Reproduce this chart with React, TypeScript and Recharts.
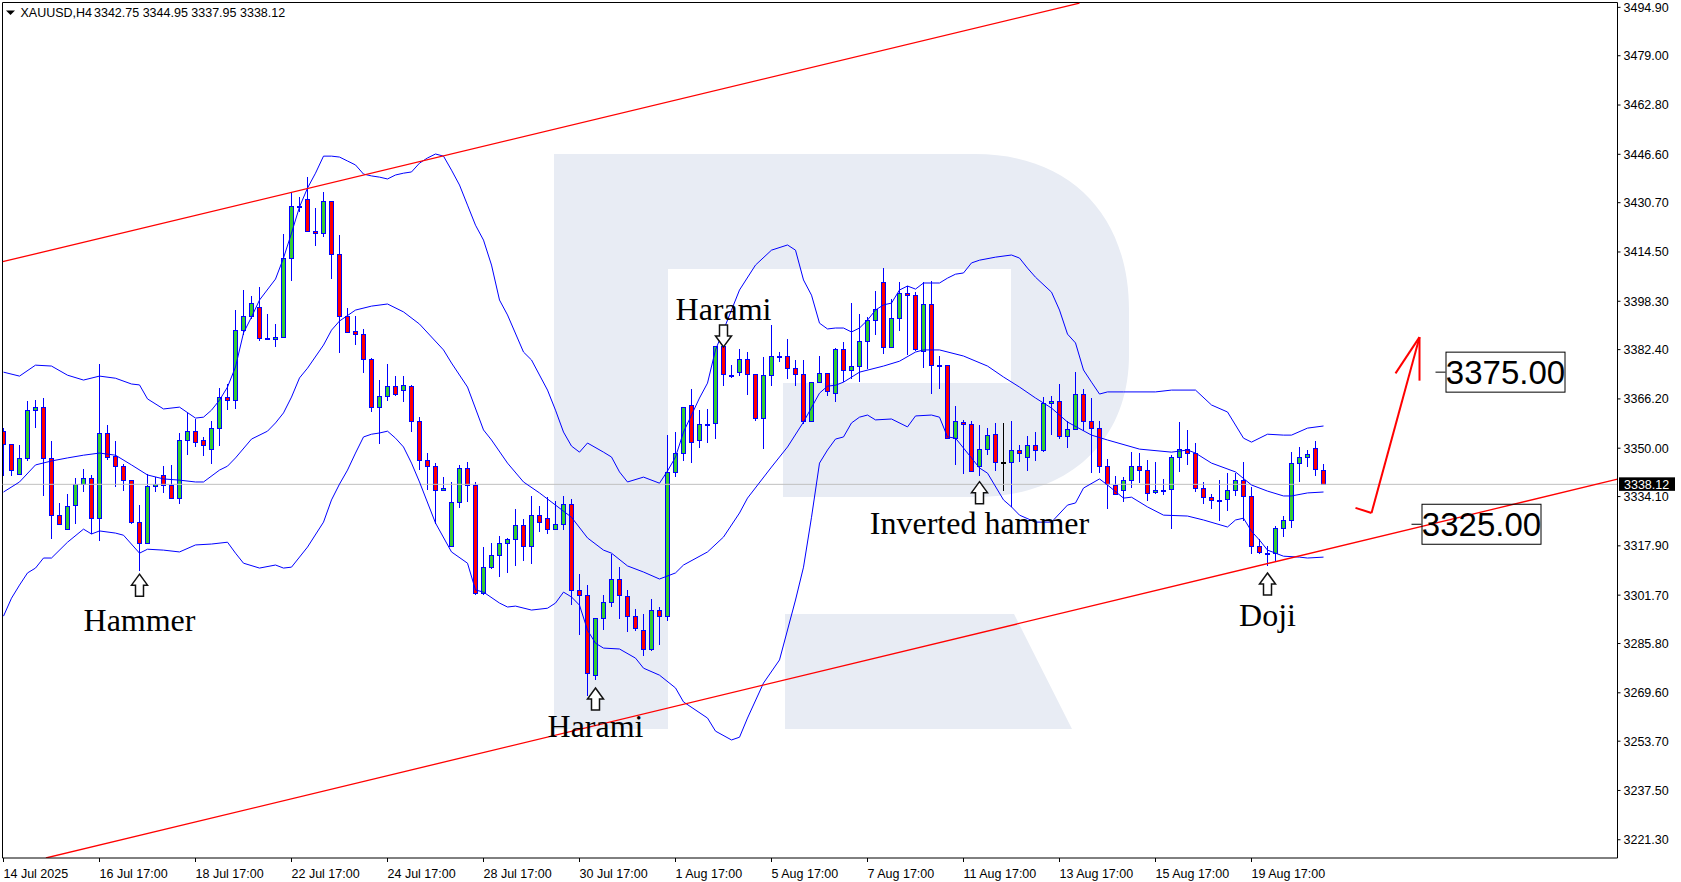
import React from "react";
import { ComposedChart, Bar, Line, XAxis, YAxis, ReferenceLine, ReferenceDot } from "recharts";

const opens = [
  3355.5, 3351.3, 3341.6, 3346.7, 3362.4, 3363.4, 3346.7, 3328.2, 3323.6, 3331.2,
  3338.1, 3340.1, 3326.9, 3354.9, 3347.6, 3344, 3339.4, 3325.6, 3319, 3337.5,
  3341.1, 3337.8, 3333.5, 3352.6, 3355.5, 3352.6, 3349.9, 3356.5, 3366.7, 3366,
  3388.7, 3393.3, 3396.3, 3386.1, 3385.8, 3386.4, 3412.4, 3429.4, 3431.8, 3421.3,
  3420.6, 3431.4, 3413.7, 3393.3, 3388.4, 3387.7, 3379.2, 3363.7, 3367, 3370.3,
  3369, 3370.3, 3358.8, 3346, 3344, 3336.1, 3317.7, 3332.2, 3343.4, 3337.8,
  3302.3, 3310.8, 3314.8, 3319, 3320, 3324.6, 3317.7, 3328.2, 3326.9, 3323.3,
  3325, 3331.5, 3303.3, 3301.6, 3275.3, 3294.1, 3299.6, 3306.9, 3301.3, 3295,
  3290.1, 3283.9, 3296.7, 3294.7, 3342.1, 3348.3, 3364.1, 3352.6, 3357.8, 3358.2,
  3383.5, 3373.8, 3374.9, 3379.2, 3374.3, 3359.8, 3373.9, 3380.2, 3380.2, 3376.2,
  3374.3, 3359.1, 3371.6, 3374.6, 3368, 3382.5, 3375.6, 3376.9, 3385.1, 3392.3,
  3404.5, 3383.4, 3392.7, 3400.9, 3400.2, 3382.1, 3397.3, 3377.3, 3377.2, 3353.5,
  3358.5, 3357.8, 3344, 3349.9, 3354.8, 3345.5, 3345.6, 3349.3, 3347, 3350.9,
  3349.3, 3364.7, 3365.4, 3354, 3356.2, 3367.7, 3359.1, 3356.8, 3344.3, 3337.8,
  3336.1, 3339.7, 3344, 3342.7, 3335.5, 3336.1, 3336.5, 3347, 3349.7, 3348.3,
  3336.8, 3333.9, 3332.8, 3333.2, 3336.2, 3339.5, 3334.2, 3317.8, 3315.3, 3315.5,
  3323.7, 3326.3, 3345.1, 3347, 3350, 3342.75,
];
const highs = [
  3356.5, 3351.3, 3351, 3365.5, 3365.8, 3366.4, 3352.4, 3331.9, 3335.1, 3340.1,
  3343.2, 3341.2, 3377.7, 3357.5, 3352.4, 3344.7, 3339.7, 3331.3, 3341.4, 3340.6,
  3344, 3344.5, 3354.9, 3361.6, 3359.5, 3353.7, 3358.8, 3369.7, 3371, 3395.4,
  3402, 3400, 3403, 3394.1, 3390.8, 3420.4, 3434.1, 3432.7, 3439, 3428.9,
  3434.1, 3431.4, 3420.1, 3396, 3393.4, 3389.1, 3379.5, 3372.4, 3377.6, 3373.6,
  3373.6, 3370.7, 3360.3, 3348.3, 3345, 3340.4, 3338.8, 3344.4, 3345.3, 3338.8,
  3317.4, 3319, 3321.1, 3320.4, 3329.9, 3326.6, 3334.2, 3330.9, 3333.8, 3332.5,
  3334.2, 3333.2, 3308.5, 3304.9, 3294.1, 3301.7, 3315.1, 3311.1, 3303.4, 3297.3,
  3295.5, 3300.3, 3297.7, 3354.5, 3355.2, 3363.4, 3369.3, 3362.5, 3363, 3383.5,
  3387.2, 3377.3, 3382.6, 3381.5, 3374.3, 3380, 3390.5, 3381.5, 3385.9, 3379,
  3378.9, 3371.6, 3380.3, 3374.8, 3382.8, 3384.8, 3397.6, 3394, 3393, 3401.7,
  3409.1, 3399.2, 3404.5, 3403.4, 3401.2, 3404.5, 3405.1, 3380.2, 3377.5, 3364,
  3359.4, 3358.8, 3357.5, 3356.5, 3358.2, 3358.2, 3359.1, 3350.9, 3353.9, 3355.2,
  3366.7, 3367.3, 3371, 3359.1, 3375.2, 3369.3, 3366.4, 3359.1, 3346.6, 3341,
  3340.4, 3348.6, 3348.3, 3346.1, 3345.4, 3339.8, 3347.7, 3358.5, 3356, 3351.6,
  3338.8, 3334.9, 3339.6, 3341.8, 3341.8, 3345.4, 3337.2, 3320.1, 3317.8, 3324.3,
  3327.6, 3348.7, 3350.3, 3349.3, 3352.3, 3344.95,
];
const lows = [
  3341, 3341, 3341.3, 3345.9, 3356.6, 3334.4, 3320.2, 3325, 3323.6, 3325.2,
  3335.7, 3321.7, 3319.6, 3346.2, 3337.3, 3336, 3325, 3309.7, 3318.4, 3335.7,
  3335.4, 3333.5, 3331.7, 3347.9, 3350.5, 3347.5, 3344.9, 3350.8, 3362.7, 3363,
  3387.1, 3392.5, 3385.4, 3385.6, 3383.4, 3386.1, 3405, 3427.7, 3421.3, 3416.4,
  3419.5, 3405.7, 3381.4, 3387.9, 3383.9, 3374.6, 3362, 3351.5, 3365.6, 3367.3,
  3365.3, 3355.4, 3342.8, 3336.2, 3325.1, 3335.8, 3317.7, 3330.4, 3332.4, 3301.6,
  3301.6, 3310.4, 3307.8, 3309.1, 3311.4, 3313, 3312, 3322.5, 3321.8, 3323.3,
  3323.1, 3298.5, 3288.7, 3268.7, 3273.8, 3290.3, 3297.9, 3293.9, 3289.7, 3290,
  3281.6, 3283.5, 3285.4, 3293.3, 3340.6, 3345.8, 3345.2, 3350.1, 3351.8, 3353.1,
  3370.5, 3373.2, 3373.7, 3367.6, 3359, 3349.8, 3370.4, 3378.2, 3372.7, 3370.4,
  3358, 3358.6, 3371.3, 3367.1, 3365.2, 3371.6, 3372.6, 3371.7, 3375.9, 3387.2,
  3381, 3383.4, 3388.6, 3380.6, 3381.8, 3376.3, 3367.9, 3369.5, 3353.2, 3344.4,
  3341.4, 3342.3, 3341, 3347.9, 3342.4, 3336, 3330.7, 3345.3, 3342.6, 3345.7,
  3348.9, 3354.2, 3352.9, 3350, 3356.2, 3355.5, 3341.7, 3341.9, 3329.9, 3334.5,
  3332.2, 3336.8, 3338.4, 3332.8, 3334.9, 3334.5, 3323.6, 3342.3, 3344.5, 3335.7,
  3331.7, 3330, 3326.2, 3329.4, 3334.4, 3326, 3315.1, 3315.1, 3311.4, 3312.5,
  3320.8, 3323.8, 3339, 3343.7, 3340.9, 3337.95,
];
const closes = [
  3351.3, 3342.7, 3346.7, 3362.4, 3363.4, 3346.7, 3328.2, 3325, 3330.9, 3338.1,
  3340.1, 3326.9, 3354.9, 3347, 3344, 3339.4, 3325.6, 3319, 3337.5, 3338.1,
  3337.8, 3333.5, 3352.6, 3355.5, 3352.2, 3350.9, 3356.8, 3366.7, 3366, 3388.7,
  3393.3, 3397.6, 3386.1, 3385.8, 3386.4, 3412.4, 3429.5, 3429.6, 3421.3, 3420.6,
  3431.4, 3413.7, 3393.3, 3388.2, 3387.7, 3379.2, 3363.7, 3367, 3370.3, 3367.7,
  3370.7, 3358.8, 3346, 3344, 3336.1, 3336.8, 3332.2, 3343.4, 3337.8, 3302.3,
  3310.8, 3314.8, 3319, 3320, 3324.6, 3317.7, 3328.2, 3325.6, 3323.3, 3325,
  3331.5, 3303.3, 3301.9, 3276, 3294.1, 3299.6, 3306.9, 3301.6, 3295, 3290.8,
  3283.9, 3296.7, 3294.7, 3342.1, 3348.3, 3363.4, 3352.2, 3357.8, 3358, 3383.5,
  3374.3, 3373.9, 3379.2, 3374.3, 3359.8, 3373.9, 3380.2, 3380.3, 3376.2, 3374.3,
  3359.1, 3371.6, 3374.6, 3368.7, 3382.5, 3375.6, 3376.9, 3385.1, 3392.3, 3395.9,
  3383.4, 3392.7, 3400.9, 3400.2, 3382.5, 3397.3, 3377.5, 3377.5, 3353.5, 3358.8,
  3357.8, 3342.4, 3349.9, 3354.5, 3345.6, 3345.6, 3349.3, 3348.3, 3350.9, 3349.3,
  3364.7, 3365.4, 3354, 3356.2, 3367.7, 3359.1, 3356.8, 3344.3, 3338.1, 3334.8,
  3339.7, 3344, 3342.7, 3335.4, 3336.2, 3336.2, 3347, 3349.7, 3348.3, 3336.8,
  3333.9, 3332.9, 3333, 3336.2, 3339.5, 3334.2, 3317.8, 3315.8, 3315.5, 3323.7,
  3326.3, 3345.1, 3347, 3348, 3343.1, 3338.12,
];
const blackBars = [125];

// Bollinger bands, [bar, price]
const upperBand: [number, number][] = [
  [0, 3375], [2, 3373.7], [4, 3377.3], [6, 3377], [8, 3374], [10, 3372.4], [12, 3373.7], [14, 3373], [16, 3371.1], [17, 3370.8],
  [18, 3366.2], [20, 3362.9], [22, 3363.5], [24, 3359.9], [25, 3360.2], [26, 3362.5], [27, 3365.8], [28, 3370.1], [29, 3376.7], [30, 3387.9],
  [31, 3393.1], [32, 3398.7], [34, 3405.6], [35, 3412.5], [36, 3420.7], [37, 3429.3], [38, 3435.5], [39, 3440.4], [40, 3446], [41, 3446],
  [42, 3445.7], [43, 3444.4], [44, 3443.1], [45, 3440.1], [46, 3439.5], [47, 3439.1], [48, 3438.5], [49, 3439.8], [50, 3440.4], [51, 3440.8],
  [52, 3443.7], [53, 3445.4], [54, 3446.7], [55, 3446], [56, 3441.4], [57, 3436.5], [58, 3429.9], [59, 3423.3], [60, 3418.4], [61, 3410.2],
  [62, 3398.7], [63, 3393.8], [65, 3381.6], [66, 3379], [68, 3369.1], [69, 3362.5], [70, 3355.3], [71, 3350.7], [72, 3348.7], [73, 3351.7],
  [75, 3348.7], [76, 3347.1], [77, 3342.2], [78, 3338.9], [80, 3340.5], [82, 3338.5], [83, 3342.5], [84, 3347.1], [85, 3355.3], [86, 3360.9],
  [87, 3366.5], [88, 3371.4], [89, 3382.3], [90, 3388.8], [91, 3395.4], [92, 3402], [94, 3410.2], [96, 3415.1], [98, 3416.8], [99, 3415.1],
  [100, 3405.3], [101, 3400.3], [102, 3391.1], [103, 3389.2], [104, 3389.5], [105, 3389.5], [106, 3388.2], [107, 3389.5], [108, 3392.1], [109, 3395.4],
  [110, 3397.1], [111, 3397.7], [112, 3402], [113, 3403.3], [114, 3402.3], [115, 3404.3], [117, 3404.3], [118, 3405.9], [119, 3407.2], [120, 3407.6],
  [121, 3410.9], [122, 3411.8], [124, 3412.8], [126, 3413.5], [127, 3412.5], [128, 3409.2], [129, 3406.2], [131, 3401.3], [132, 3395.4], [133, 3387.5],
  [134, 3384.6], [135, 3375.7], [136, 3371.7], [137, 3367.8], [138, 3368.5], [140, 3368.5], [144, 3368.5], [146, 3369.1], [149, 3369.1], [151, 3364.2],
  [153, 3361.9], [155, 3353.3], [156, 3352], [158, 3354.6], [160, 3354.3], [161, 3354.3], [163, 3356.6], [165, 3357.3],
];
const middleBand: [number, number][] = [
  [0, 3335.6], [2, 3338.9], [4, 3344.5], [6, 3345.8], [8, 3346.8], [10, 3347.7], [12, 3348.4], [14, 3347.7], [16, 3344.5], [18, 3341.2],
  [20, 3339.9], [22, 3339.5], [24, 3338.9], [25, 3338.9], [27, 3342.8], [28, 3344.1], [29, 3346.8], [31, 3353], [33, 3355.6], [34, 3358.3],
  [35, 3361.6], [36, 3366.8], [37, 3373.1], [38, 3376.3], [40, 3383.9], [41, 3388.8], [42, 3391.8], [44, 3395.4], [46, 3396.7], [48, 3397.4],
  [50, 3394.8], [52, 3390.8], [55, 3382.3], [56, 3378], [58, 3370.1], [60, 3356], [61, 3352.7], [63, 3345.1], [65, 3338.9], [67, 3335.3],
  [69, 3331.3], [71, 3327.3], [73, 3320.5], [75, 3316.5], [76, 3315.5], [78, 3311.3], [80, 3309.3], [82, 3307], [84, 3309], [85, 3311.6],
  [88, 3315.9], [90, 3320.8], [92, 3328.7], [93, 3333.6], [96, 3343.8], [98, 3350.4], [100, 3358.6], [102, 3368.1], [103, 3370.4], [104, 3370.7],
  [105, 3371.7], [107, 3375], [110, 3377], [112, 3378.6], [114, 3381.6], [115, 3382.3], [117, 3382.3], [120, 3380.3], [123, 3377], [125, 3373.4],
  [127, 3370.1], [129, 3366.5], [131, 3363.2], [133, 3358.6], [136, 3354.3], [138, 3352.7], [142, 3349.7], [146, 3348.7], [148, 3349.4], [149, 3348.4],
  [151, 3345.1], [154, 3342.2], [156, 3337.9], [158, 3335.9], [160, 3334.3], [161, 3334.3], [163, 3335.3], [165, 3335.6],
];
const lowerBand: [number, number][] = [
  [0, 3294.8], [1, 3300.7], [2, 3305], [3, 3309], [4, 3310.6], [5, 3313.9], [6, 3313.9], [8, 3319.1], [10, 3323.4], [11, 3321.8],
  [12, 3322.8], [14, 3322.1], [15, 3321.4], [17, 3315.5], [18, 3316.8], [20, 3316.5], [22, 3315.9], [24, 3318.2], [26, 3318.5], [28, 3319.1],
  [29, 3315.5], [30, 3312.2], [32, 3310.6], [34, 3311.6], [35, 3310.6], [36, 3310.9], [38, 3317.5], [40, 3325.7], [41, 3333], [42, 3338.2],
  [43, 3342.8], [44, 3348.4], [45, 3353.7], [46, 3354.6], [47, 3355], [48, 3355.6], [49, 3353.3], [50, 3350.4], [51, 3345.1], [52, 3338.9],
  [54, 3325.4], [56, 3315.9], [58, 3312.2], [59, 3303.4], [60, 3302.7], [62, 3299.1], [63, 3297.8], [64, 3298.1], [66, 3296.8], [68, 3297.4],
  [69, 3299.1], [70, 3302.7], [71, 3301.1], [72, 3298.4], [73, 3290.2], [74, 3285.9], [75, 3284.3], [77, 3284], [79, 3281], [80, 3277.7],
  [82, 3275.4], [84, 3271.2], [85, 3266.6], [88, 3261.3], [89, 3257], [91, 3254.1], [92, 3255], [93, 3261.3], [95, 3272.8], [97, 3280.4],
  [99, 3300.1], [100, 3310.9], [101, 3327.3], [102, 3345.1], [103, 3349.4], [104, 3353], [105, 3353.7], [106, 3358.3], [107, 3360.2], [108, 3360.9],
  [109, 3359.3], [111, 3359.6], [113, 3357], [114, 3360.6], [116, 3360.9], [117, 3360.2], [118, 3353.7], [119, 3353.3], [121, 3346.8], [122, 3343.5],
  [123, 3341.8], [125, 3333], [126, 3330.7], [127, 3328], [129, 3325.7], [131, 3325.7], [133, 3331.3], [134, 3332], [135, 3336.9], [137, 3339.9],
  [138, 3337.9], [140, 3333.6], [141, 3333.9], [143, 3330.7], [145, 3328], [148, 3327.7], [150, 3326.4], [153, 3324.1], [154, 3326.4], [155, 3327],
  [156, 3322.7], [157, 3319.8], [158, 3316.5], [160, 3314.5], [162, 3314.2], [163, 3313.9], [165, 3314.2],
];

const priceTicks = [
  3494.9, 3479, 3462.8, 3446.6, 3430.7, 3414.5, 3398.3, 3382.4, 3366.2, 3350,
  3334.1, 3317.9, 3301.7, 3285.8, 3269.6, 3253.7, 3237.5, 3221.3,
];
const timeLabels = [
  "14 Jul 2025", "16 Jul 17:00", "18 Jul 17:00", "22 Jul 17:00", "24 Jul 17:00", "28 Jul 17:00", "30 Jul 17:00",
  "1 Aug 17:00", "5 Aug 17:00", "7 Aug 17:00", "11 Aug 17:00", "13 Aug 17:00", "15 Aug 17:00", "19 Aug 17:00",
];
const timeTicks = timeLabels.map((_, i) => i * 12);

// pattern name, bar, price at the arrow tip, arrow direction, label shift
const patterns: [string, number, number, "up" | "down", number][] = [
  ["Hammer", 17, 3308.6, "up", 46],
  ["Harami", 74, 3271.2, "up", 38],
  ["Harami", 90, 3383.3, "down", -38],
  ["Inverted hammer", 122, 3339, "up", 41],
  ["Doji", 158, 3309, "up", 42],
];
const targets: [number, number][] = [
  [179, 3375],
  [176, 3325],
];
// [bar1, price1, bar2, price2]
const trendLines = [
  [-0.1, 3411.3, 134.5, 3496.3],
  [5.3, 3215.3, 201.75, 3339.8],
];
const forecastArrow = [
  [169, 3330.4, 171, 3328.7],
  [171, 3328.7, 177, 3386.5],
  [174, 3374.6, 177, 3386.5],
  [177, 3372.2, 177, 3386.5],
];

const LAST_PRICE = 3338.12;
const X_MIN = -0.125;
const X_MAX = 201.75;
const Y_MIN = 3215.3;
const Y_MAX = 3496.5;
const AXIS_FONT = "'Liberation Sans', Arial, sans-serif";
const SERIF = "'Liberation Serif', 'Times New Roman', serif";

const rows = opens.map((open, i) => ({
  i,
  open,
  high: highs[i],
  low: lows[i],
  close: closes[i],
  range: [lows[i], highs[i]],
  upper: upperBand.find((p) => p[0] === i)?.[1],
  middle: middleBand.find((p) => p[0] === i)?.[1],
  lower: lowerBand.find((p) => p[0] === i)?.[1],
}));

function Candle(props: any) {
  const { x, y, width, height, payload } = props;
  const cx = Math.round(x + width / 2 - 0.5) + 0.5;
  const unit = height / (payload.high - payload.low);
  const yOf = (v: number) => y + (payload.high - v) * unit;
  const top = Math.round(yOf(Math.max(payload.open, payload.close))) + 0.5;
  const bottom = Math.round(yOf(Math.min(payload.open, payload.close))) + 0.5;
  const up = payload.close >= payload.open;
  const wick = blackBars.includes(payload.i) ? "#000" : "#0000ff";
  return (
    <g shapeRendering="crispEdges">
      <line x1={cx} x2={cx} y1={y} y2={y + height} stroke={wick} />
      {bottom - top < 1.5 ? (
        <line x1={cx - 2.5} x2={cx + 2.5} y1={top} y2={top} stroke={wick} strokeWidth={2} />
      ) : (
        <rect x={cx - 2} y={top} width={4} height={bottom - top} fill={up ? "#32cd32" : "#ff0000"} stroke="#0000ff" />
      )}
    </g>
  );
}

function PatternMark(props: any) {
  const { cx, cy, name, dir, shift } = props;
  const s = dir === "up" ? 1 : -1;
  const pts = [
    [0, 0], [8, 11], [4, 11], [4, 22], [-4, 22], [-4, 11], [-8, 11],
  ].map(([a, b]) => `${cx + a},${cy + s * b}`).join(" ");
  return (
    <g>
      <polygon points={pts} fill="#fff" stroke="#111" strokeWidth={1.5} />
      <text x={cx} y={cy + shift} textAnchor="middle" dominantBaseline="central" fontFamily={SERIF} fontSize={32} fill="#000">
        {name}
      </text>
    </g>
  );
}

function TargetBox(props: any) {
  const { cx, cy, value } = props;
  return (
    <g>
      <line x1={cx} x2={cx + 10} y1={cy} y2={cy} stroke="#000" />
      <rect x={cx + 10.5} y={cy - 20} width={119} height={40} fill="none" stroke="#000" />
      <text x={cx + 70} y={cy} textAnchor="middle" dominantBaseline="central" fontFamily={AXIS_FONT} fontSize={33} fill="#000">
        {value.toFixed(2)}
      </text>
    </g>
  );
}

function LastPriceTag(props: any) {
  const { cx, cy } = props;
  return (
    <g>
      <rect x={cx + 1.5} y={cy - 7} width={56} height={13.5} fill="#000" />
      <text x={cx + 6.5} y={cy + 4.5} fontFamily={AXIS_FONT} fontSize={12.5} fill="#fff">
        {LAST_PRICE.toFixed(2)}
      </text>
    </g>
  );
}

function TimeTick(props: any) {
  const { x, y, index } = props;
  return (
    <text x={x} y={y + 14} fontFamily={AXIS_FONT} fontSize={12.5} fill="#000">
      {timeLabels[index]}
    </text>
  );
}

const LOGO =
  "M554 154 H975 C1070 154 1129 215 1129 310 V355 C1129 440 1070 497 975 497 H783 V383 H1011 V269 H668 V729 H554 Z " +
  "M785 614 H1014 L1072 729 H785 Z";

export default function App() {
  return (
    <div style={{ position: "absolute", left: 0, top: 0, width: 1681, height: 882, background: "#fff" }}>
      <svg width={1681} height={882} style={{ position: "absolute", left: 0, top: 0 }}>
        <path d={LOGO} fill="#e8ecf4" fillRule="evenodd" />
      </svg>
      <div style={{ position: "absolute", left: 0, top: 0 }}>
        <ComposedChart
          width={1681}
          height={882}
          data={rows}
          margin={{ top: 2.5, right: 0, bottom: 0, left: 2.5 }}
          barSize={8}
        >
          <XAxis
            dataKey="i"
            type="number"
            domain={[X_MIN, X_MAX]}
            allowDataOverflow
            ticks={timeTicks}
            interval={0}
            height={24}
            tickSize={4}
            tick={<TimeTick />}
            stroke="#000"
          />
          <YAxis
            orientation="right"
            type="number"
            domain={[Y_MIN, Y_MAX]}
            allowDataOverflow
            ticks={priceTicks}
            interval={0}
            width={63.5}
            tickSize={3}
            tickMargin={3}
            tickFormatter={(v: number) => v.toFixed(2)}
            tick={{ fontFamily: AXIS_FONT, fontSize: 12.5, fill: "#000" }}
            stroke="#000"
          />
          <ReferenceLine x={X_MIN} stroke="#000" />
          <ReferenceLine y={Y_MAX} stroke="#000" />
          <ReferenceLine y={LAST_PRICE} stroke="#c0c0c0" />
          <Bar dataKey="range" shape={<Candle />} isAnimationActive={false} />
          <Line dataKey="upper" stroke="#0000ff" strokeWidth={1} dot={false} connectNulls isAnimationActive={false} />
          <Line dataKey="middle" stroke="#0000ff" strokeWidth={1} dot={false} connectNulls isAnimationActive={false} />
          <Line dataKey="lower" stroke="#0000ff" strokeWidth={1} dot={false} connectNulls isAnimationActive={false} />
          {trendLines.map(([a, b, c, d], k) => (
            <ReferenceLine
              key={`trend-${k}`}
              segment={[{ x: a, y: b }, { x: c, y: d }]}
              stroke="#ff0000"
              strokeWidth={1.3}
              ifOverflow="hidden"
            />
          ))}
          {forecastArrow.map(([a, b, c, d], k) => (
            <ReferenceLine
              key={`arrow-${k}`}
              segment={[{ x: a, y: b }, { x: c, y: d }]}
              stroke="#ff0000"
              strokeWidth={2}
            />
          ))}
          {patterns.map(([name, bar, price, dir, shift], k) => (
            <ReferenceDot
              key={`pattern-${k}`}
              x={bar}
              y={price}
              r={0}
              shape={<PatternMark name={name} dir={dir} shift={shift} />}
            />
          ))}
          {targets.map(([bar, price], k) => (
            <ReferenceDot key={`target-${k}`} x={bar} y={price} r={0} shape={<TargetBox value={price} />} />
          ))}
          <ReferenceDot x={X_MAX} y={LAST_PRICE} r={0} ifOverflow="visible" shape={<LastPriceTag />} />
        </ComposedChart>
      </div>
      <svg width={320} height={24} style={{ position: "absolute", left: 0, top: 0 }}>
        <polygon points="6,10.5 15,10.5 10.5,15" fill="#000" />
        <text x={20.5} y={17} fontFamily={AXIS_FONT} fontSize={12.5} fill="#000">XAUUSD,H4</text>
        <text x={94} y={17} fontFamily={AXIS_FONT} fontSize={12.5} fill="#000">3342.75 3344.95 3337.95 3338.12</text>
      </svg>
    </div>
  );
}
